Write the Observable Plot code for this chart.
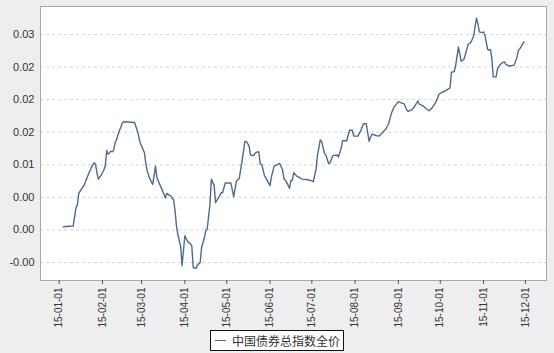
<!DOCTYPE html>
<html>
<head>
<meta charset="utf-8">
<script src="https://cdn.jsdelivr.net/npm/d3@7"></script>
<script src="https://cdn.jsdelivr.net/npm/@observablehq/plot@0.6"></script>
<style>
  html, body { margin: 0; padding: 0; background: #eeeeee; }
  #chart { width: 554px; }
  #legend {
    display: flex; justify-content: center; margin-top: 2px;
  }
  #legend .box {
    display: flex; align-items: center; border: 1px solid #111; background: #fff;
    height: 19px; padding: 0 3px 0 4px;
    font-family: "Noto Sans CJK SC", sans-serif; font-size: 12px; color: #333;
  }
  #legend .swatch { width: 11px; height: 0; border-top: 1.2px solid #4e6b8c; margin-right: 6px; }
</style>
</head>
<body>
<div id="chart"></div>
<div id="legend"><div class="box"><span class="swatch"></span><span id="legend-text"></span></div></div>
<script>
const seriesName = "中国债券总指数全价";

const dates = [
  "2015-01-04","2015-01-11","2015-01-13","2015-01-14","2015-01-15","2015-01-17","2015-01-19","2015-01-20",
  "2015-01-22","2015-01-24","2015-01-26","2015-01-27","2015-01-28","2015-01-29","2015-01-31","2015-02-02",
  "2015-02-03","2015-02-04","2015-02-05","2015-02-07","2015-02-08","2015-02-09","2015-02-10","2015-02-11",
  "2015-02-13","2015-02-14","2015-02-15","2015-02-16","2015-02-24","2015-02-26","2015-02-28","2015-03-03",
  "2015-03-04","2015-03-05","2015-03-07","2015-03-09","2015-03-11","2015-03-12","2015-03-15","2015-03-17",
  "2015-03-18","2015-03-19","2015-03-22","2015-03-24","2015-03-25","2015-03-26","2015-03-27","2015-03-29",
  "2015-03-30","2015-03-31","2015-04-01","2015-04-03","2015-04-05","2015-04-06","2015-04-07","2015-04-09",
  "2015-04-10","2015-04-12","2015-04-13","2015-04-15","2015-04-16","2015-04-17","2015-04-19","2015-04-20",
  "2015-04-22","2015-04-23","2015-04-25","2015-04-27","2015-04-28","2015-04-30","2015-05-04","2015-05-06",
  "2015-05-08","2015-05-10","2015-05-12","2015-05-14","2015-05-15","2015-05-17","2015-05-18","2015-05-20",
  "2015-05-22","2015-05-24","2015-05-25","2015-05-26","2015-05-28","2015-05-29","2015-06-01","2015-06-02",
  "2015-06-04","2015-06-07","2015-06-08","2015-06-10","2015-06-11","2015-06-13","2015-06-15","2015-06-16",
  "2015-06-17","2015-06-18","2015-06-20","2015-06-24","2015-06-28","2015-06-30","2015-07-02","2015-07-04",
  "2015-07-05","2015-07-07","2015-07-08","2015-07-10","2015-07-11","2015-07-13","2015-07-14","2015-07-16",
  "2015-07-19","2015-07-20","2015-07-22","2015-07-23","2015-07-26","2015-07-28","2015-07-30","2015-07-31",
  "2015-08-03","2015-08-05","2015-08-07","2015-08-09","2015-08-11","2015-08-13","2015-08-16","2015-08-18",
  "2015-08-20","2015-08-23","2015-08-25","2015-08-27","2015-08-29","2015-09-01","2015-09-03","2015-09-05",
  "2015-09-07","2015-09-08","2015-09-11","2015-09-13","2015-09-15","2015-09-16","2015-09-19","2015-09-21",
  "2015-09-23","2015-09-25","2015-09-27","2015-09-29","2015-09-30","2015-10-02","2015-10-05","2015-10-08",
  "2015-10-09","2015-10-11","2015-10-12","2015-10-14","2015-10-16","2015-10-18","2015-10-20","2015-10-21",
  "2015-10-23","2015-10-25","2015-10-26","2015-10-27","2015-10-28","2015-10-29","2015-10-31","2015-11-01",
  "2015-11-02","2015-11-04","2015-11-05","2015-11-06","2015-11-07","2015-11-08","2015-11-10","2015-11-11",
  "2015-11-13","2015-11-14","2015-11-16","2015-11-17","2015-11-19","2015-11-21","2015-11-23","2015-11-25",
  "2015-11-26","2015-11-27","2015-11-30"
];

const values = [
  0.0005, 0.0006, 0.0034, 0.0038, 0.0056, 0.0063, 0.0069, 0.0075,
  0.0086, 0.0096, 0.0103, 0.0101, 0.0088, 0.0078, 0.0084, 0.0092,
  0.0099, 0.0122, 0.0116, 0.0121, 0.0120, 0.0122, 0.0134, 0.0138,
  0.0152, 0.0157, 0.0163, 0.0166, 0.0165, 0.0152, 0.0134, 0.0119,
  0.0103, 0.0091, 0.0078, 0.0070, 0.0098, 0.0080, 0.0065, 0.0055,
  0.0049, 0.0056, 0.0052, 0.0046, 0.0029, 0.0006, -0.0007, -0.0025,
  -0.0055, -0.0032, -0.0009, -0.0018, -0.0021, -0.0025, -0.0058, -0.0059,
  -0.0054, -0.0050, -0.0027, -0.0012, -0.0001, 0.0001, 0.0039, 0.0078,
  0.0068, 0.0042, 0.0049, 0.0057, 0.0057, 0.0072, 0.0072, 0.0051,
  0.0075, 0.0079, 0.0106, 0.0136, 0.0136, 0.0129, 0.0115, 0.0114,
  0.0119, 0.0120, 0.0101, 0.0101, 0.0084, 0.0080, 0.0068, 0.0081,
  0.0098, 0.0101, 0.0102, 0.0092, 0.0079, 0.0073, 0.0064, 0.0076,
  0.0076, 0.0088, 0.0083, 0.0078, 0.0077, 0.0076, 0.0074, 0.0093,
  0.0114, 0.0138, 0.0136, 0.0118, 0.0115, 0.0102, 0.0103, 0.0114,
  0.0115, 0.0112, 0.0125, 0.0137, 0.0137, 0.0153, 0.0153, 0.0144,
  0.0144, 0.0152, 0.0163, 0.0163, 0.0136, 0.0147, 0.0145, 0.0144,
  0.0148, 0.0155, 0.0163, 0.0179, 0.0189, 0.0197, 0.0195, 0.0194,
  0.0184, 0.0182, 0.0185, 0.0191, 0.0198, 0.0193, 0.0190, 0.0186,
  0.0183, 0.0187, 0.0193, 0.0202, 0.0208, 0.0211, 0.0214, 0.0218,
  0.0242, 0.0243, 0.0252, 0.0281, 0.0259, 0.0262, 0.0277, 0.0285,
  0.0288, 0.0298, 0.0313, 0.0325, 0.0316, 0.0304, 0.0303, 0.0304,
  0.0299, 0.0277, 0.0276, 0.0277, 0.0262, 0.0235, 0.0235, 0.0247,
  0.0254, 0.0256, 0.0258, 0.0254, 0.0252, 0.0252, 0.0253, 0.0265,
  0.0276, 0.0278, 0.0289
];

const xTickDates = [
  "2015-01-01","2015-02-01","2015-03-01","2015-04-01","2015-05-01","2015-06-01",
  "2015-07-01","2015-08-01","2015-09-01","2015-10-01","2015-11-01","2015-12-01"
];
const xTickLabels = [
  "15-01-01","15-02-01","15-03-01","15-04-01","15-05-01","15-06-01",
  "15-07-01","15-08-01","15-09-01","15-10-01","15-11-01","15-12-01"
];
const yTicks = [-0.005, 0, 0.005, 0.01, 0.015, 0.02, 0.025, 0.03];
const yTickLabels = ["-0.00", "0.00", "0.00", "0.01", "0.02", "0.02", "0.02", "0.03"];

const data = dates.map((d, i) => ({date: new Date(d), value: values[i]}));
const xTicks = xTickDates.map(d => new Date(d));
const xTickKeys = xTicks.map(d => +d);

const chart = Plot.plot({
  width: 554,
  height: 328,
  marginLeft: 40,
  marginRight: 8,
  marginTop: 6,
  marginBottom: 48,
  style: {background: "transparent", fontFamily: "'Liberation Sans', Arial, sans-serif", fontSize: "11px", color: "#333"},
  x: {type: "utc", domain: [new Date(Date.UTC(2014, 11, 18, 14)), new Date(Date.UTC(2015, 11, 16, 3))]},
  y: {domain: [-0.00776, 0.0343]},
  marks: [
    Plot.frame({fill: "white", stroke: "none"}),
    Plot.ruleY(yTicks, {stroke: "#d4d4d4", strokeDasharray: "3,3", strokeWidth: 1}),
    Plot.frame({stroke: "#a8a8a8"}),
    Plot.axisY({ticks: yTicks, tickFormat: d => yTickLabels[yTicks.indexOf(d)], tickSize: 0, tickPadding: 6, label: null, fontSize: 11}),
    Plot.axisX({ticks: xTicks, tickFormat: d => xTickLabels[xTickKeys.indexOf(+d)], tickRotate: -90, tickSize: 4, tickPadding: 3, label: null, fontSize: 10, stroke: "#555"}),
    Plot.lineY(data, {x: "date", y: "value", stroke: "#4e6b8c", strokeWidth: 1.4})
  ]
});
document.getElementById("chart").appendChild(chart);
document.getElementById("legend-text").textContent = seriesName;
</script>
</body>
</html>
